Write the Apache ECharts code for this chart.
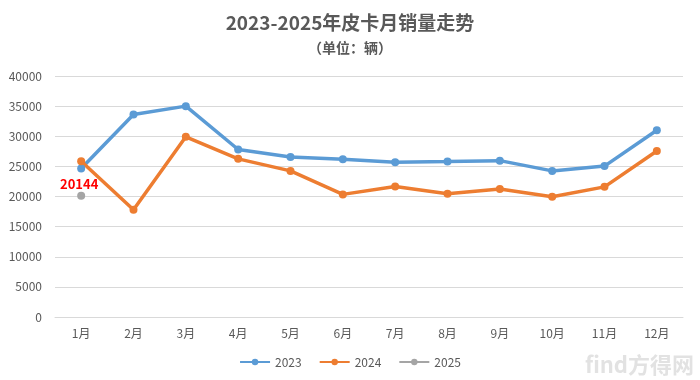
<!DOCTYPE html>
<html>
<head>
<meta charset="utf-8">
<script src="https://cdn.jsdelivr.net/npm/echarts@6/dist/echarts.min.js"></script>
<style>html,body{margin:0;padding:0;background:#fff}#c{width:700px;height:380px}</style>
</head>
<body>
<div id="c"></div>
<script>
var categories = ['1月','2月','3月','4月','5月','6月','7月','8月','9月','10月','11月','12月'];
var sales2023 = [24650, 33600, 35000, 27800, 26550, 26200, 25700, 25800, 25950, 24250, 25050, 31000];
var sales2024 = [25850, 17800, 29900, 26250, 24250, 20350, 21650, 20450, 21250, 19950, 21600, 27550];
var sales2025 = [20144];
var yTicks = [0, 5000, 10000, 15000, 20000, 25000, 30000, 35000, 40000];

var chart = echarts.init(document.getElementById('c'));
var font = '"Noto Sans CJK SC", "Noto Sans", sans-serif';
chart.setOption({
  animation: false,
  textStyle: { fontFamily: font },
  title: [
    { text: '2023-2025年皮卡月销量走势', left: 'center', top: 8,
      textStyle: { fontSize: 19, fontWeight: 'bold', color: '#595959', fontFamily: font } },
    { text: '（单位：辆）', left: 'center', top: 36,
      textStyle: { fontSize: 14, fontWeight: 'bold', color: '#595959', fontFamily: font } }
  ],
  legend: {
    bottom: 7, left: 'center', itemWidth: 30, itemHeight: 8, itemGap: 17,
    textStyle: { fontSize: 12, color: '#595959', fontFamily: font },
    data: ['2023', '2024', '2025']
  },
  grid: { left: 55, right: 17, top: 76, bottom: 63 },
  xAxis: {
    type: 'category', data: categories, boundaryGap: true,
    axisLine: { show: true, lineStyle: { color: '#d9d9d9' } },
    axisTick: { show: false },
    axisLabel: { color: '#595959', fontSize: 12, margin: 10, fontFamily: font }
  },
  yAxis: {
    type: 'value', min: yTicks[0], max: yTicks[yTicks.length - 1], interval: 5000,
    axisLine: { show: false }, axisTick: { show: false },
    axisLabel: { color: '#595959', fontSize: 12, margin: 13, fontFamily: font,
      formatter: function (v) { return String(v); } },
    splitLine: { lineStyle: { color: '#d9d9d9', width: 1 } }
  },
  series: [
    { name: '2023', type: 'line', data: sales2023, symbol: 'circle', symbolSize: 8,
      lineStyle: { width: 3.5, color: '#5B9BD5' }, itemStyle: { color: '#5B9BD5' } },
    { name: '2024', type: 'line', data: sales2024, symbol: 'circle', symbolSize: 8,
      lineStyle: { width: 3.5, color: '#ED7D31' }, itemStyle: { color: '#ED7D31' } },
    { name: '2025', type: 'line', data: sales2025, symbol: 'circle', symbolSize: 8,
      lineStyle: { width: 3.5, color: '#A5A5A5' }, itemStyle: { color: '#A5A5A5' },
      label: { show: true, position: 'top', distance: 1, offset: [-2, 0], color: '#FF0000', fontSize: 13,
        fontWeight: 'bold', fontFamily: font } }
  ],
  graphic: [
    { type: 'text', right: 6, bottom: 4,
      style: { text: 'find方得网', fontSize: 22, fontWeight: 'bold', fill: 'rgba(140,140,140,0.25)',
        fontFamily: font } }
  ]
});
</script>
</body>
</html>
